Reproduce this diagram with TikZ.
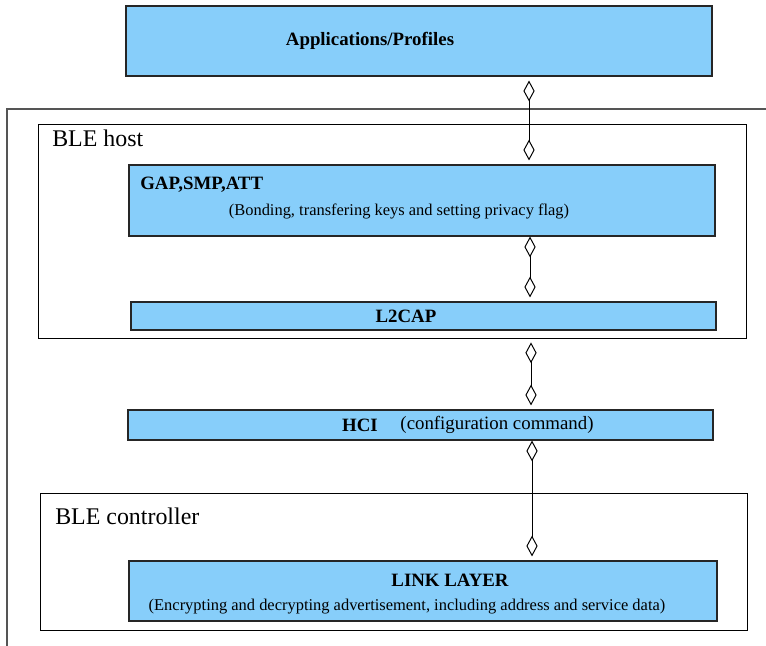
\documentclass[tikz,border=0pt]{standalone}
\usepackage{fontspec}
\setmainfont{Liberation Serif}
\usepackage{tikz}
\usetikzlibrary{positioning, arrows.meta}
\definecolor{layerblue}{RGB}{135,206,250}
\definecolor{framegray}{RGB}{85,85,85}

\begin{document}
\begin{tikzpicture}[
		layer/.style={draw=black!85, line width=0.8pt, fill=layerblue, rectangle, inner sep=0pt},
		group/.style={draw=black, line width=0.6pt, rectangle, inner sep=0pt},
		bigtext/.style={font=\fontsize{17}{20}\selectfont, anchor=west, inner sep=0pt},
		boldtext/.style={font=\fontsize{13.4}{16}\selectfont\bfseries, inner sep=0pt},
		smalltext/.style={font=\fontsize{11.7}{14}\selectfont, inner sep=0pt},
		link/.style={{Diamond[open, length=0.52cm, width=0.28cm]}-{Diamond[open, length=0.52cm, width=0.28cm]}, line width=0.7pt, shorten <=0.1cm, shorten >=0.1cm}
		]
		\useasboundingbox (0,0) rectangle (19.15,16.15);
		
		%Cornice esterna
		\coordinate (FrameCorner) at (0.175,13.425);
		\coordinate (FrameBottom) at (0.175,0);
		\coordinate (FrameRight) at (19.15,13.425);
		\draw[framegray, line width=0.9pt] (FrameBottom) -- (FrameCorner) -- (FrameRight);
		
		%Gruppi host e controller
		\node(Host) at (9.8,10.375) [group, minimum width=17.7cm, minimum height=5.35cm]{};
		\node(Controller) at (9.8375,2.1125) [group, minimum width=17.675cm, minimum height=3.425cm]{};
		\node at (1.3,12.7) [bigtext]{BLE host};
		\node at (1.375,3.25) [bigtext]{BLE controller};
		
		%Blocchi
		\node(Applications) at (10.475,15.125) [layer, minimum width=14.65cm, minimum height=1.75cm]{};
		\node(GAP) at (10.55,11.1375) [layer, minimum width=14.65cm, minimum height=1.775cm]{};
		\node(L2CAP) at (10.5875,8.25) [layer, minimum width=14.625cm, minimum height=0.7cm]{};
		\node(HCI) at (10.5125,5.525) [layer, minimum width=14.625cm, minimum height=0.75cm]{};
		\node(LinkLayer) at (10.575,1.375) [layer, minimum width=14.7cm, minimum height=1.5cm]{};
		
		%Testi dei blocchi
		\node at (9.25,15.125) [boldtext]{Applications/Profiles};
		\node at (3.5,11.525) [boldtext, anchor=west]{GAP,SMP,ATT};
		\node at (9.975,10.875) [smalltext]{(Bonding, transfering keys and setting privacy flag)};
		\node at (10.15,8.25) [boldtext]{L2CAP};
		\node at (9.0,5.525) [boldtext]{HCI};
		\node at (12.425,5.525) [boldtext, font=\fontsize{13.4}{16}\selectfont]{(configuration command)};
		\node at (11.25,1.65) [boldtext]{LINK LAYER};
		\node at (10.175,0.975) [smalltext]{(Encrypting and decrypting advertisement, including address and service data)};
		
		%Collegamenti
		\coordinate (x1) at (13.225,0);
		\coordinate (x2) at (13.25,0);
		\coordinate (x3) at (13.275,0);
		\coordinate (x4) at (13.3,0);
		\draw[link] (Applications.south -| x1) -- (GAP.north -| x1);
		\draw[link, shorten <=0cm] (GAP.south -| x2) -- (L2CAP.north -| x2);
		\draw[link] (Host.south -| x3) -- (HCI.north -| x3);
		\draw[link, shorten <=0cm] (HCI.south -| x4) -- (LinkLayer.north -| x4);
		
\end{tikzpicture}
\end{document}
